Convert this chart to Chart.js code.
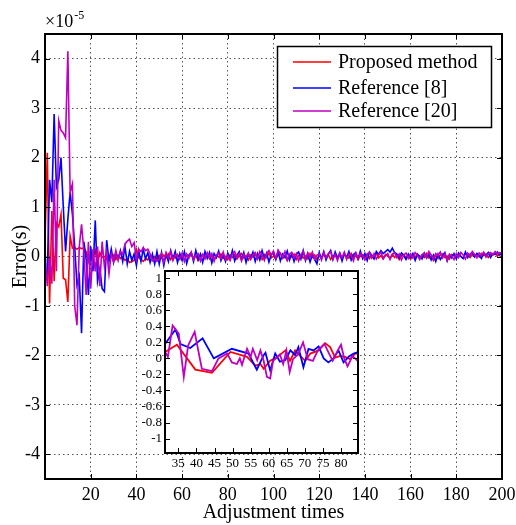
<!DOCTYPE html>
<html>
<head>
<meta charset="utf-8">
<script src="https://cdn.jsdelivr.net/npm/chart.js@4.4.1/dist/chart.umd.min.js"></script>
<style>
html,body{margin:0;padding:0;background:#fff;}
#wrap{position:relative;width:516px;height:525px;}
#main{position:absolute;left:0;top:0;}
#inset{position:absolute;left:120px;top:262px;}
</style>
</head>
<body>
<div id="wrap">
<canvas id="main" width="516" height="525"></canvas>
<canvas id="inset" width="245" height="215"></canvas>
</div>
<script>
// ---- data (errors in units of 1e-5 s) ----
const seriesNames = ['Proposed method', 'Reference [8]', 'Reference [20]'];
const seriesColors = ['#ff0000', '#0000ff', '#c000c0'];
const adjustmentTimes = Array.from({length: 201}, (_, i) => i);

const proposed = [
 0.3, 2.1, -0.95, 0.92, -0.5, 0.68, 0.6, 0.85, -0.44, -0.47,
 -0.92, 0.41, 0.17, 0.18, 0.15, 0.18, 0.16, 0.17, 0.1, -0.1,
 0.05, -0.03, 0.12, -0.15, 0.08, -0.02, 0.0, -0.05, 0.02, -0.02,
 0.03, -0.06, 0.02, -0.04, 0.0, -0.08, -0.05, -0.12, -0.1, -0.08,
 0.14, -0.02, -0.06, -0.1, -0.04, -0.07, 0.02, -0.05, 0.0, -0.06,
 0.02, -0.04, 0.03, -0.02, 0.05, -0.06, 0.01, -0.03, 0.04, -0.05,
 0.0, -0.07, 0.03, -0.02, 0.06, -0.04, 0.02, -0.08, 0.01, 0.04,
 -0.03, 0.05, -0.05, 0.02, -0.06, 0.03, -0.01, 0.05, -0.04, 0.0,
 -0.06, 0.03, -0.02, 0.04, -0.05, 0.01, 0.06, -0.03, 0.02, -0.07,
 0.03, -0.01, 0.05, -0.04, 0.02, -0.06, 0.04, -0.02, 0.07, -0.03,
 0.01, -0.05, 0.03, 0.06, -0.04, 0.02, -0.08, 0.03, -0.01, 0.05,
 -0.06, 0.02, 0.04, -0.03, 0.01, -0.05, 0.06, -0.02, 0.03, -0.07,
 0.02, -0.03, 0.05, -0.01, 0.04, -0.06, 0.01, 0.03, -0.04, 0.02,
 -0.05, 0.04, 0.0, -0.03, 0.06, -0.02, 0.03, -0.06, 0.01, 0.04,
 -0.02, 0.05, -0.04, 0.02, -0.01, 0.06, -0.03, 0.02, -0.05, 0.04,
 0.01, -0.04, 0.05, -0.02, 0.03, -0.06, 0.02, 0.04, -0.03, 0.01,
 -0.05, 0.03, -0.01, 0.05, -0.04, 0.02, -0.02, 0.06, -0.03, 0.0,
 -0.08, 0.02, -0.04, 0.03, 0.05, -0.02, 0.01, -0.05, 0.04, 0.02,
 -0.03, 0.05, 0.0, -0.04, 0.06, 0.02, -0.02, 0.04, 0.01, 0.05,
 -0.01, 0.06, 0.02, 0.04, -0.02, 0.05, 0.03, 0.07, 0.01, 0.05,
 0.04
];
const reference8 = [
 -0.3, -0.35, 1.55, 1.1, 2.88, 1.4, 1.55, 2.0, 1.0, 0.1,
 0.75, 1.3, 0.85, 0.2, -0.58, -0.4, -1.55, 0.3, -0.05, -0.78,
 0.2, -0.3, 0.73, -0.5, -0.25, -0.65, -0.71, 0.33, -0.1, 0.15,
 -0.12, 0.08, -0.05, 0.12, -0.1, 0.2, -0.15, 0.1, -0.08, 0.05,
 -0.18, 0.12, -0.1, 0.15, -0.05, 0.08, -0.12, 0.05, -0.15, 0.1,
 -0.15, 0.08, -0.18, 0.05, -0.1, 0.12, -0.05, 0.1, -0.12, 0.06,
 -0.08, 0.1, -0.14, 0.03, 0.08, -0.1, 0.12, -0.06, 0.05, -0.12,
 0.1, -0.04, 0.08, -0.13, 0.06, -0.02, 0.11, -0.08, 0.04, -0.1,
 0.07, -0.05, 0.12, -0.09, 0.03, 0.1, -0.06, 0.08, -0.12, 0.05,
 -0.03, 0.09, -0.1, 0.06, -0.07, 0.12, -0.04, 0.07, -0.11, 0.04,
 0.08, -0.06, 0.1, -0.09, 0.05, -0.02, 0.11, -0.07, 0.06, -0.1,
 0.04, 0.09, -0.05, 0.12, -0.08, 0.06, -0.11, 0.03, -0.06, -0.15,
 0.08, -0.04, 0.1, -0.07, 0.05, 0.12, -0.06, 0.09, -0.03, 0.07,
 -0.09, 0.06, -0.02, 0.1, -0.07, 0.04, 0.08, -0.05, 0.11, -0.04,
 0.06, -0.08, 0.09, 0.02, -0.05, 0.1, 0.04, 0.12, 0.06, 0.1,
 0.14, 0.09, 0.17, 0.08, 0.05, -0.03, 0.07, 0.02, -0.06, 0.05,
 -0.02, 0.06, -0.08, 0.04, 0.01, -0.05, 0.07, -0.03, 0.05, -0.07,
 0.03, -0.1, 0.05, -0.06, 0.02, 0.08, -0.09, 0.04, -0.03, 0.06,
 -0.05, 0.07, 0.0, -0.04, 0.09, -0.02, 0.05, 0.08, -0.01, 0.06,
 0.02, -0.04, 0.07, 0.03, 0.08, -0.02, 0.06, 0.04, 0.09, 0.03,
 0.06
];
const reference20 = [
 0.07, -0.6, 0.0, -0.55, 1.55, -0.3, 2.75, 2.55, 2.5, 2.4,
 4.15, 1.3, 1.47, -1.0, -1.39, 0.2, 0.65, 0.1, -0.78, 0.3,
 -0.65, 0.15, -0.3, 0.2, -0.6, 0.3, -0.2, 0.1, -0.35, 0.05,
 -0.1, 0.12, -0.08, 0.1, 0.05, 0.25, 0.31, 0.35, 0.2, 0.28,
 -0.06, 0.15, 0.1, 0.18, 0.12, 0.15, 0.05, -0.09, -0.05, -0.1,
 -0.05, 0.06, -0.12, 0.08, -0.03, 0.1, -0.08, 0.04, 0.0, -0.06,
 0.07, -0.1, 0.05, -0.03, 0.09, -0.07, 0.02, 0.06, -0.09, 0.04,
 -0.05, 0.08, -0.02, 0.06, -0.1, 0.03, 0.07, -0.04, 0.09, -0.06,
 0.02, -0.08, 0.05, 0.1, -0.03, 0.06, -0.09, 0.04, -0.02, 0.07,
 -0.06, 0.03, 0.08, -0.05, 0.1, 0.04, -0.08, 0.06, 0.12, 0.03,
 0.11, -0.04, 0.13, 0.06, -0.02, 0.1, -0.07, 0.05, 0.08, -0.03,
 0.06, -0.09, 0.04, 0.1, -0.05, 0.07, -0.02, 0.09, -0.06, 0.03,
 0.05, -0.07, 0.08, -0.03, 0.06, 0.1, -0.05, 0.04, -0.08, 0.07,
 -0.02, 0.09, -0.06, 0.05, 0.02, -0.09, 0.07, -0.04, 0.06, 0.01,
 -0.07, 0.05, 0.08, -0.03, 0.06, -0.05, 0.03, 0.09, -0.04, 0.02,
 0.06, -0.06, 0.04, 0.08, -0.02, 0.05, -0.07, 0.03, 0.07, -0.04,
 0.05, -0.03, 0.08, 0.02, -0.06, 0.04, 0.07, -0.02, 0.1, 0.03,
 -0.05, 0.06, 0.02, 0.09, -0.03, 0.05, -0.08, 0.04, 0.01, -0.06,
 0.06, -0.02, 0.08, 0.03, -0.05, 0.07, 0.01, 0.1, 0.04, -0.03,
 0.07, 0.02, 0.09, -0.01, 0.06, 0.08, 0.03, 0.1, 0.05, 0.08,
 0.07
];

// inset (zoomed view)
const insetProposedX = [31.3,34.6,39.7,44.3,49.4,54.0,56.3,57.7,58.6,60.4,62.2,64.6,65.9,67.3,68.7,70.1,71.5,73.8,75.6,77.0,78.4,79.8,81.1,82.5,83.9,84.7];
const insetProposed  = [0.08,0.17,-0.14,-0.18,0.08,0.02,-0.09,-0.07,-0.13,-0.03,0.01,0.1,-0.03,0.1,0.03,-0.03,0.06,0.1,0.19,0.14,0.01,0.03,0.02,-0.01,0.06,0.06];
const insetRef8X = [31.3,34.2,35.6,38.3,41.7,44.8,49.8,54.4,56.7,58.6,59.1,60.4,61.8,63.1,64.6,66.0,67.3,68.2,69.6,71.0,72.4,73.8,75.2,76.5,77.9,79.3,80.7,82.1,83.5,84.7];
const insetRef8  = [0.18,0.36,0.18,0.13,0.25,0.0,0.12,0.06,-0.14,0.04,0.07,-0.15,0.06,-0.04,-0.02,0.1,0.04,0.14,-0.11,0.12,0.1,0.15,0.0,-0.05,0.0,0.1,-0.05,0.02,0.06,0.08];
const insetRef20X = [31.3,32.1,33.4,35.1,36.5,37.7,39.5,41.5,44.3,46.1,48.5,49.8,51.2,52.0,52.6,54.0,55.0,55.6,56.8,57.7,58.6,59.5,60.4,61.2,62.2,63.1,64.0,64.9,65.8,66.7,68.1,69.5,70.8,72.2,73.6,75.4,76.8,77.7,79.1,80.0,80.9,81.8,83.2,84.6];
const insetRef20  = [0.08,0.02,0.41,0.31,-0.23,0.16,0.33,-0.13,-0.16,0.0,0.06,-0.05,-0.07,0.0,-0.08,0.12,0.02,0.12,-0.02,0.1,-0.03,-0.23,-0.25,-0.03,0.01,0.05,-0.07,0.1,-0.17,-0.01,0.05,0.2,-0.01,-0.03,0.1,0.18,0.05,-0.03,0.1,0.17,0.0,-0.1,0.03,-0.03];

// tick labels
const mainXTicks = [20,40,60,80,100,120,140,160,180,200];
const mainYTicks = [-4,-3,-2,-1,0,1,2,3,4];
const insetXTicks = [35,40,45,50,55,60,65,70,75,80];
const insetYTicks = [-1,-0.8,-0.6,-0.4,-0.2,0,0.2,0.4,0.6,0.8,1];
const insetYLabels = ['-1','-0.8','-0.6','-0.4','-0.2','0','0.2','0.4','0.6','0.8','1'];

// ---- rendering ----
const FONT = "'Liberation Serif', 'Times New Roman', serif";

function pts(xsArr, ysArr){ return ysArr.map((v, i) => ({x: xsArr[i], y: v})); }

const innerTicks = {
  id: 'innerTicks',
  afterDatasetsDraw(chart, args, opts) {
    const {ctx, chartArea: a, scales} = chart;
    const L = 5;
    ctx.save();
    ctx.strokeStyle = '#000';
    ctx.lineWidth = 1;
    ctx.beginPath();
    scales.x.ticks.forEach(t => {
      const px = Math.round(scales.x.getPixelForValue(t.value)) + 0.5;
      if (px <= a.left + 1 || px >= a.right - 1) return;
      ctx.moveTo(px, a.bottom); ctx.lineTo(px, a.bottom - L);
      ctx.moveTo(px, a.top); ctx.lineTo(px, a.top + L);
    });
    scales.y.ticks.forEach(t => {
      const py = Math.round(scales.y.getPixelForValue(t.value)) + 0.5;
      if (py <= a.top + 1 || py >= a.bottom - 1) return;
      ctx.moveTo(a.left, py); ctx.lineTo(a.left + L, py);
      ctx.moveTo(a.right, py); ctx.lineTo(a.right - L, py);
    });
    ctx.stroke();
    ctx.lineWidth = 2;
    ctx.strokeRect(a.left, a.top, a.right - a.left, a.bottom - a.top);
    ctx.restore();
  }
};

const whiteArea = {
  id: 'whiteArea',
  beforeDraw(chart) {
    const {ctx, chartArea: a} = chart;
    ctx.save();
    ctx.fillStyle = '#fff';
    ctx.fillRect(a.left, a.top, a.right - a.left, a.bottom - a.top);
    ctx.restore();
  }
};

const legendAndExponent = {
  id: 'legendAndExponent',
  afterDraw(chart) {
    const ctx = chart.ctx;
    ctx.save();
    // exponent label
    ctx.fillStyle = '#000';
    ctx.textBaseline = 'alphabetic';
    ctx.textAlign = 'left';
    ctx.font = '18px ' + FONT;
    ctx.fillText('\u00d710', 45, 27);
    const w = ctx.measureText('\u00d710').width;
    ctx.font = '12px ' + FONT;
    ctx.fillText('-5', 45 + w + 1, 19);
    // legend box
    const bx = 277.5, by = 46.5, bw = 214, bh = 81;
    ctx.fillStyle = '#fff';
    ctx.fillRect(bx, by, bw, bh);
    ctx.strokeStyle = '#000';
    ctx.lineWidth = 1.5;
    ctx.strokeRect(bx, by, bw, bh);
    const rows = [62, 88, 111];
    chart.data.datasets.forEach((ds, i) => {
      ctx.strokeStyle = ds.borderColor;
      ctx.lineWidth = 1.5;
      ctx.beginPath();
      ctx.moveTo(293, rows[i]); ctx.lineTo(331, rows[i]);
      ctx.stroke();
      ctx.fillStyle = '#000';
      ctx.font = '20px ' + FONT;
      ctx.textBaseline = 'middle';
      ctx.fillText(ds.label, 338, rows[i] + 1);
    });
    ctx.restore();
  }
};

const mainSeries = [proposed, reference8, reference20];
new Chart(document.getElementById('main'), {
  type: 'line',
  data: {
    datasets: mainSeries.map((s, i) => ({
      label: seriesNames[i],
      data: pts(adjustmentTimes, s),
      borderColor: seriesColors[i],
      borderWidth: 1.6,
      pointRadius: 0,
      tension: 0,
      fill: false,
      order: 3 - i
    }))
  },
  options: {
    responsive: false,
    animation: false,
    devicePixelRatio: 1,
    layout: {padding: {left: 0, right: 14, top: 34, bottom: 0}},
    plugins: {legend: {display: false}, tooltip: {enabled: false}},
    scales: {
      x: {
        type: 'linear', min: 0, max: 200,
        afterBuildTicks: s => { s.ticks = mainXTicks.map(v => ({value: v})); },
        afterFit: s => { s.height = 46; s.paddingLeft = 0; s.paddingRight = 0; },
        ticks: {color: '#000', font: {family: FONT, size: 18}, padding: 5, maxRotation: 0, autoSkip: false},
        grid: {color: '#555', lineWidth: 1, drawTicks: false},
        border: {display: false, dash: [1.5, 3]},
        title: {display: true, text: 'Adjustment times', color: '#000', font: {family: FONT, size: 20}, padding: {top: 0, bottom: 0}}
      },
      y: {
        type: 'linear', min: -4.5, max: 4.5,
        afterBuildTicks: s => { s.ticks = mainYTicks.map(v => ({value: v})); },
        afterFit: s => { s.width = 45; s.paddingTop = 0; s.paddingBottom = 0; },
        ticks: {color: '#000', font: {family: FONT, size: 18}, padding: 5, autoSkip: false},
        grid: {color: '#555', lineWidth: 1, drawTicks: false},
        border: {display: false, dash: [1.5, 3]},
        title: {display: true, text: 'Error(s)', color: '#000', font: {family: FONT, size: 20}, padding: {top: 9, bottom: 0}}
      }
    }
  },
  plugins: [innerTicks, legendAndExponent]
});

const insetSeries = [[insetProposedX, insetProposed], [insetRef8X, insetRef8], [insetRef20X, insetRef20]];
new Chart(document.getElementById('inset'), {
  type: 'line',
  data: {
    datasets: insetSeries.map((s, i) => ({
      label: seriesNames[i],
      data: pts(s[0], s[1]),
      borderColor: seriesColors[i],
      borderWidth: 1.8,
      pointRadius: 0,
      tension: 0,
      fill: false,
      order: 3 - i
    }))
  },
  options: {
    responsive: false,
    animation: false,
    devicePixelRatio: 1,
    layout: {padding: {left: 0, right: 7, top: 9, bottom: 0}},
    plugins: {legend: {display: false}, tooltip: {enabled: false}},
    scales: {
      x: {
        type: 'linear', min: 31.3, max: 84.7,
        afterBuildTicks: s => { s.ticks = insetXTicks.map(v => ({value: v})); },
        afterFit: s => { s.height = 24; s.paddingLeft = 0; s.paddingRight = 0; },
        ticks: {color: '#000', font: {family: FONT, size: 13}, padding: 3, maxRotation: 0, autoSkip: false},
        grid: {display: false, drawTicks: false},
        border: {display: false}
      },
      y: {
        type: 'linear', min: -1.18, max: 1.09,
        afterBuildTicks: s => { s.ticks = insetYTicks.map(v => ({value: v})); },
        afterFit: s => { s.width = 45; s.paddingTop = 0; s.paddingBottom = 0; },
        ticks: {color: '#000', font: {family: FONT, size: 13}, padding: 3, autoSkip: false, callback: (v, i) => insetYLabels[i]},
        grid: {display: false, drawTicks: false},
        border: {display: false}
      }
    }
  },
  plugins: [whiteArea, Object.assign({}, innerTicks, {id: 'innerTicksInset'})]
});
</script>
</body>
</html>
